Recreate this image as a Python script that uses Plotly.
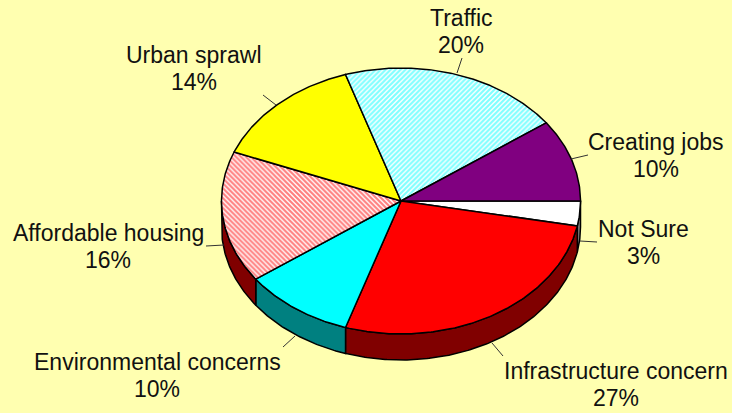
import numpy as np
import plotly.graph_objects as go

categories = ["Not Sure", "Infrastructure concern", "Environmental concerns",
              "Affordable housing", "Urban sprawl", "Traffic", "Creating jobs"]
values = [3, 27, 10, 16, 14, 20, 10]

top_colors = ["#FFFFFF", "#FF0000", "#00FFFF", "#FF0000", "#FFFF00", "#00FFFF", "#800080"]
side_colors = ["#808080", "#800000", "#008080", "#800000", "#808000", "#008080", "#400040"]
hatches = ["", "", "", "\\", "", "/", ""]

BG = "#FFFFB0"
CX, CY, RX, RY, DEPTH = 401, 201, 179.5, 133, 26

label_pos = [(643, 229), (616, 371), (157, 362), (108, 233), (194, 55), (461, 18), (656, 142)]
LINE_GAP = 27
leader_start = [(580, 241), (492, 343), (295, 336), (224, 245), (276, 105), (457, 73), (571, 159)]
leader_end = [(597, 242), (503, 356), (283, 347), (206, 246), (263, 95), (462, 58), (588, 155)]

total = sum(values)
edges = np.cumsum([0] + values) / total * 2 * np.pi


def arc(a, b, dy=0.0):
    t = np.linspace(a, b, max(3, int((b - a) * 90)))
    return CX + RX * np.cos(t), CY + RY * np.sin(t) + dy


fig = go.Figure()

# side walls: only the front half of the disc is visible
for i in range(len(values)):
    a, b = edges[i], min(edges[i + 1], np.pi)
    if a >= np.pi:
        continue
    x1, y1 = arc(a, b)
    x2, y2 = arc(a, b, DEPTH)
    fig.add_trace(go.Scatter(
        x=np.r_[x1, x2[::-1], x1[0]], y=np.r_[y1, y2[::-1], y1[0]],
        mode="lines", fill="toself", fillcolor=side_colors[i],
        line=dict(color="black", width=1.5), hoverinfo="skip", showlegend=False))

# top face
for i in range(len(values)):
    x1, y1 = arc(edges[i], edges[i + 1])
    trace = dict(
        x=np.r_[CX, x1, CX], y=np.r_[CY, y1, CY],
        mode="lines", fill="toself", name=categories[i],
        line=dict(color="black", width=1.5), showlegend=False)
    if hatches[i]:
        trace["fillpattern"] = dict(shape=hatches[i], fgcolor=top_colors[i], bgcolor="#FFFFFF",
                                    size=3.5, solidity=0.62, fillmode="overlay")
        trace["fillcolor"] = "#FFFFFF"
    else:
        trace["fillcolor"] = top_colors[i]
    fig.add_trace(go.Scatter(**trace))

# leader lines and labels
font = dict(family="Liberation Sans", size=23, color="#111111")
for i, cat in enumerate(categories):
    s, e = leader_start[i], leader_end[i]
    fig.add_trace(go.Scatter(x=[s[0], e[0]], y=[s[1], e[1]], mode="lines",
                             line=dict(color="#333333", width=1), hoverinfo="skip", showlegend=False))
    fig.add_annotation(x=label_pos[i][0], y=label_pos[i][1], xanchor="center", yanchor="middle",
                       text=cat, showarrow=False, font=font)
    fig.add_annotation(x=label_pos[i][0], y=label_pos[i][1] + LINE_GAP, xanchor="center", yanchor="middle",
                       text=f"{values[i]}%", showarrow=False, font=font)

fig.update_layout(
    width=732, height=413, margin=dict(l=0, r=0, t=0, b=0),
    paper_bgcolor=BG, plot_bgcolor=BG, showlegend=False,
    xaxis=dict(range=[0, 732], visible=False, fixedrange=True),
    yaxis=dict(range=[413, 0], visible=False, fixedrange=True),
)
fig.write_html("out.html", config=dict(displayModeBar=False),
               post_script="document.body.style.margin='0';document.body.style.background='" + BG + "';")
